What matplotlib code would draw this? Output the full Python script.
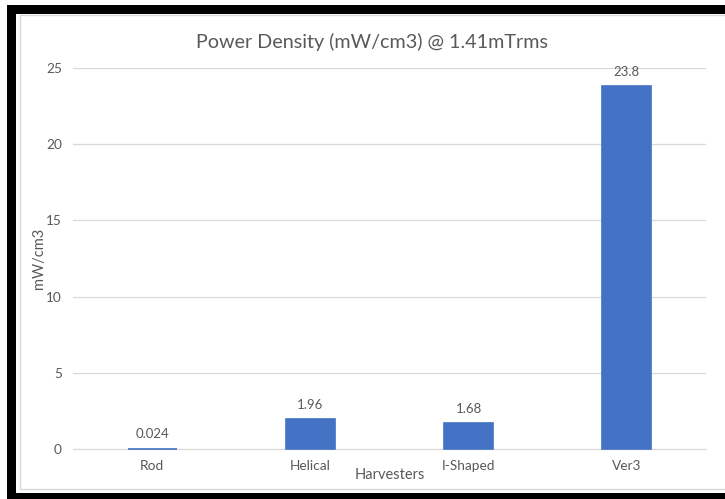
import matplotlib
matplotlib.use("Agg")
import matplotlib.pyplot as plt
from matplotlib.patches import Rectangle

# power density per harvester design
harvesters = ["Rod", "Helical", "I-Shaped", "Ver3"]
density = [0.024, 1.96, 1.68, 23.8]
value_labels = ["0.024", "1.96", "1.68", "23.8"]
y_ticks = [0, 5, 10, 15, 20, 25]

plt.rcParams['font.family'] = ['Lato', 'DejaVu Sans']
text_grey = "#595959"
bar_blue = "#4472C4"
grid_grey = "#D9D9D9"

W, H = 725, 499
fig = plt.figure(figsize=(W / 100, H / 100), dpi=100)
fig.patch.set_facecolor("white")


def px_rect(x0, y0, x1, y1, **kw):
    # rectangle given in pixel coords (origin top-left)
    fig.patches.append(Rectangle((x0 / W, 1 - y1 / H), (x1 - x0) / W, (y1 - y0) / H,
                                 transform=fig.transFigure, figure=fig, zorder=-2, **kw))


# chart area frame
px_rect(20, 15, 726, 489, facecolor="white", edgecolor="#D9D9D9", linewidth=1.0)
# black screen border
px_rect(7, 5, 726, 14, facecolor="black", edgecolor="none")
px_rect(7, 5, 16, 499, facecolor="black", edgecolor="none")
px_rect(7, 493, 726, 499, facecolor="black", edgecolor="none")

ax = fig.add_axes([73 / W, 1 - 449 / H, 633 / W, (449 - 68) / H])
ax.set_zorder(3)
ax.set_facecolor("none")
x = range(len(harvesters))
bars = ax.bar(x, density, width=0.31, color=bar_blue, edgecolor=bar_blue,
              linewidth=1.2, zorder=3, clip_on=False)
for b, lab in zip(bars, value_labels):
    ax.annotate(lab, (b.get_x() + b.get_width() / 2, b.get_height()),
                xytext=(0, 6), textcoords="offset points", ha="center", va="bottom",
                fontsize=9.5, color=text_grey)

ax.set_xlim(-0.5, len(harvesters) - 0.5)
ax.set_ylim(0, 25)
ax.set_yticks(y_ticks)
ax.set_xticks(list(x))
ax.set_xticklabels(harvesters)
ax.tick_params(axis="both", length=0, labelsize=9.8, labelcolor=text_grey)
ax.tick_params(axis="y", pad=8)
ax.tick_params(axis="x", pad=8)
ax.grid(axis="y", color=grid_grey, linewidth=0.9, zorder=0)
for s in ["top", "right", "left"]:
    ax.spines[s].set_visible(False)
ax.spines["bottom"].set_color(grid_grey)
ax.spines["bottom"].set_zorder(2)

ax.set_ylabel("mW/cm3", fontsize=10.5, color=text_grey, labelpad=0)
ax.set_xlabel("Harvesters", fontsize=10.5, color=text_grey, labelpad=-3)
fig.text(372 / W, 1 - 42 / H, "Power Density (mW/cm3) @ 1.41mTrms",
         ha="center", va="center", fontsize=14.2, color=text_grey)

fig.savefig("out.png", dpi=100)
